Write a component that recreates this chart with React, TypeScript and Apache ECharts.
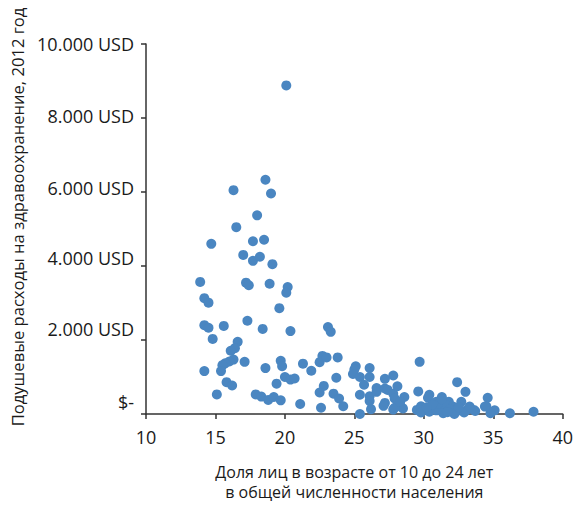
import React, { useEffect, useRef } from "react";
import * as echarts from "echarts";

// Share of population aged 10–24 (%), per country
const youthShare: number[] = [
  20.1, 18.6, 16.3, 19.0, 18.0, 16.5, 14.7, 17.7, 18.5, 17.0,
  17.7, 18.2, 19.1, 13.9, 17.2, 17.4, 18.9, 20.2, 20.1, 14.2,
  14.5, 19.6, 14.2, 14.5, 15.6, 17.3, 18.4, 20.4, 14.8, 16.6,
  16.4, 16.1, 16.3, 16.0, 15.7, 15.5, 17.1, 14.2, 15.4, 19.7,
  19.8, 18.6, 21.3, 20.0, 20.4, 20.7, 19.4, 15.8, 16.2, 15.1,
  17.9, 18.3, 18.8, 19.2, 19.7, 21.1, 23.1, 23.3, 21.9, 22.5,
  22.7, 23.0, 23.8, 23.7, 22.8, 22.5, 23.5, 23.9, 24.2, 22.6,
  25.1, 25.0, 24.9, 25.4, 26.1, 26.1, 25.7, 25.4, 25.4, 26.1,
  26.1, 26.2, 26.6, 26.6, 27.2, 27.8, 27.2, 27.4, 27.8, 28.1,
  28.6, 27.2, 27.1, 27.8, 28.3, 28.5, 27.9, 29.7, 29.6, 29.5,
  30.4, 30.3, 29.8, 29.8, 32.4, 33.0, 31.3, 34.6, 32.7, 31.8,
  30.9, 34.5, 35.1, 34.8, 36.2, 37.9, 33.7, 30.7, 31.2, 31.6,
  32.1, 33.1, 33.6, 31.4, 30.4, 34.4, 30.9, 31.0, 31.9, 32.4,
  32.9, 32.2, 31.7, 30.6, 33.3, 32.5, 31.3, 30.2, 27.9, 28.3,
];

// Per-capita health expenditure, 2012 (USD)
const healthSpend: number[] = [
  8880, 6330, 6050, 5960, 5370, 5050, 4600, 4670, 4710, 4300,
  4140, 4250, 4050, 3570, 3550, 3480, 3520, 3430, 3280, 3130,
  3010, 2860, 2400, 2330, 2380, 2520, 2300, 2240, 2030, 1950,
  1780, 1710, 1470, 1420, 1370, 1320, 1410, 1160, 1160, 1440,
  1290, 1240, 1360, 1000, 930, 960, 820, 860, 770, 530,
  530, 470, 380, 460, 370, 270, 2350, 2220, 1170, 1400,
  1570, 1530, 1530, 980, 760, 580, 550, 420, 210, 170,
  1290, 1200, 1080, 1000, 1240, 1000, 790, 520, 0, 480,
  350, 130, 700, 600, 950, 1040, 690, 650, 550, 750,
  460, 300, 220, 120, 220, 150, 170, 1410, 610, 110,
  520, 440, 210, 40, 860, 600, 460, 440, 330, 330,
  330, 210, 100, 20, 20, 60, 80, 150, 240, 240,
  200, 110, 110, 20, 60, 200, 100, 280, 120, 80,
  40, 0, 50, 250, 200, 180, 400, 180, 420, 330,
];

const xTicks = { min: 10, max: 40, step: 5 };
const yTicks = { min: 0, max: 10000, step: 2000 };
const yTickLabels: string[] = ["$-", "2.000 USD", "4.000 USD", "6.000 USD", "8.000 USD", "10.000 USD"];

const xTitle = "Доля лиц в возрасте от 10 до 24 лет\nв общей численности населения";
const yTitle = "Подушевые расходы на здравоохранение, 2012 год";

const FONT = "'Open Sans', 'Noto Sans', sans-serif";
const TEXT = "#1a1a1a";

// the reference's tick labels sit progressively higher than their ticks
const labelLift = [24, 22, 16, 8, 4, 0];

export default function App() {
  const ref = useRef<HTMLDivElement>(null);

  useEffect(() => {
    if (!ref.current) return;
    const chart = echarts.init(ref.current, undefined, { renderer: "svg" });
    const data = youthShare.map((x, i) => [x, healthSpend[i]]);
    const rich: Record<string, any> = {};
    labelLift.forEach((p, i) => {
      rich["l" + i] = { fontFamily: FONT, fontSize: 18, color: TEXT, padding: [0, 0, p, 0] };
    });
    chart.setOption({
      animation: false,
      backgroundColor: "#ffffff",
      grid: { left: 146, right: 13, top: 44, bottom: 88, containLabel: false },
      xAxis: {
        type: "value",
        min: xTicks.min,
        max: xTicks.max,
        interval: xTicks.step,
        name: xTitle,
        nameLocation: "middle",
        nameGap: 48,
        nameTextStyle: { fontFamily: FONT, fontSize: 16, color: TEXT, lineHeight: 20 },
        axisLine: { lineStyle: { color: "#333", width: 1.5 } },
        axisTick: { show: true, length: 5, lineStyle: { color: "#333", width: 1.5 } },
        axisLabel: { fontFamily: FONT, fontSize: 18, color: TEXT, margin: 14 },
        splitLine: { show: false },
      },
      yAxis: {
        type: "value",
        min: yTicks.min,
        max: yTicks.max,
        interval: yTicks.step,
        axisLine: { show: true, lineStyle: { color: "#333", width: 1.5 } },
        axisTick: { show: true, length: 5, lineStyle: { color: "#333", width: 1.5 } },
        axisLabel: {
          fontFamily: FONT,
          fontSize: 18,
          color: TEXT,
          margin: 12,
          formatter: (v: number) => {
            const i = Math.round((v - yTicks.min) / yTicks.step);
            return `{l${i}|${yTickLabels[i] ?? ""}}`;
          },
          rich,
        },
        splitLine: { show: false },
      },
      graphic: [
        {
          type: "text",
          x: 17,
          y: 217,
          rotation: Math.PI / 2,
          style: {
            text: yTitle,
            fontFamily: FONT,
            fontSize: 16.6,
            fill: TEXT,
            textAlign: "center",
            textVerticalAlign: "middle",
          },
        },
      ],
      series: [
        {
          type: "scatter",
          data,
          symbolSize: 10,
          itemStyle: { color: "#4a86c1", opacity: 1 },
        },
      ],
    });
    return () => chart.dispose();
  }, []);

  return (
    <div
      ref={ref}
      style={{ position: "fixed", left: 0, top: 0, width: 576, height: 507 }}
    />
  );
}
